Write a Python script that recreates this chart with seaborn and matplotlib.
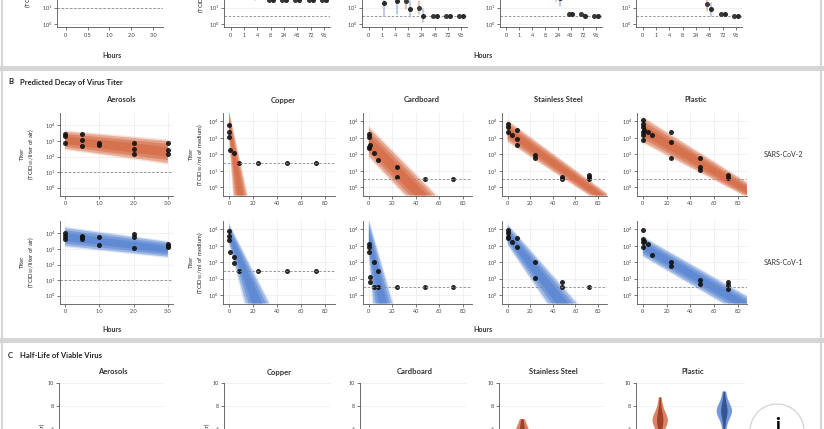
import numpy as np
import pandas as pd
import matplotlib
matplotlib.use("Agg")
import matplotlib.pyplot as plt
from matplotlib.patches import Circle, Rectangle
import seaborn as sns

# =========================
# data (log10 titers)
# =========================
MATERIALS = ["Aerosols", "Copper", "Cardboard", "Stainless Steel", "Plastic"]
VIRUSES = ["SARS-CoV-2", "SARS-CoV-1"]

# panel A: mean titer and half error per sampling time
A_CATS_AIR = ["0", "0.5", "1.0", "2.0", "3.0"]
A_CATS_SURF = ["0", "1", "4", "8", "24", "48", "72", "96"]

A_AIR_COV2 = [3.4, 3.2, 3.0, 2.8, 2.6]
A_AIR_COV1 = [3.9, 3.8, 3.6, 3.6, 3.2]
A_AIR_ERR = [0.3, 0.3, 0.3, 0.4, 0.4]
A_CU_COV2 = [3.5, 2.4, 1.9, 1.5, 1.5, 1.5, 1.5, 1.5]
A_CU_COV1 = [3.6, 2.6, 2.2, 1.5, 1.5, 1.5, 1.5, 1.5]
A_CU_ERR = [0.3, 0.4, 0.4, 0.0, 0.0, 0.0, 0.0, 0.0]
A_CB_COV2 = [3.2, 2.8, 2.5, 1.4, 1.0, 0.5, 0.5, 0.5]
A_CB_COV1 = [2.9, 1.3, 1.4, 0.9, 0.5, 0.5, 0.5, 0.5]
A_CB_ERR = [0.5, 0.8, 0.8, 0.5, 0.4, 0.0, 0.0, 0.0]
A_SS_COV2 = [3.7, 3.5, 3.2, 3.0, 1.9, 0.6, 0.6, 0.5]
A_SS_COV1 = [3.8, 3.6, 3.3, 3.1, 1.6, 0.6, 0.5, 0.5]
A_SS_ERR = [0.3, 0.3, 0.3, 0.4, 0.5, 0.1, 0.1, 0.0]
A_PL_COV2 = [3.8, 3.6, 3.4, 3.3, 2.9, 1.2, 0.6, 0.5]
A_PL_COV1 = [3.7, 3.5, 3.4, 3.0, 2.1, 0.9, 0.6, 0.5]
A_PL_ERR = [0.3, 0.3, 0.3, 0.4, 0.5, 0.4, 0.1, 0.0]

# panel B: measured points (hours, log10 titer)
B_AIR_T = [0, 0, 0, 0.5, 0.5, 0.5, 1, 1, 2, 2, 2, 3, 3, 3]
B_AIR_COV2 = [3.45, 3.3, 2.9, 3.45, 3.05, 2.7, 2.9, 2.75, 2.9, 2.5, 2.15, 2.9, 2.4, 2.15]
B_AIR_COV1 = [4.05, 3.85, 3.65, 3.85, 3.75, 3.65, 3.75, 3.25, 3.95, 3.75, 3.05, 3.3, 3.2, 3.15]

B_CU_T2 = [0, 0, 0, 1, 4, 8, 24, 48, 72]
B_CU_COV2 = [3.75, 3.35, 3.05, 2.25, 2.05, 1.5, 1.5, 1.5, 1.5]
B_CU_T1 = [0, 0, 0, 1, 4, 4, 8, 24, 48, 72]
B_CU_COV1 = [3.9, 3.6, 3.35, 2.6, 2.3, 1.95, 1.5, 1.5, 1.5, 1.5]

B_CB_T2 = [0, 0, 0, 0, 1, 4, 8, 24, 24, 48, 72]
B_CB_COV2 = [3.25, 3.05, 2.45, 2.35, 2.55, 2.1, 1.65, 1.25, 0.6, 0.5, 0.5]
B_CB_T1 = [0, 0, 0, 1, 1, 4, 4, 8, 8, 24, 48, 72]
B_CB_COV1 = [3.1, 2.9, 2.6, 1.1, 0.8, 2.0, 0.5, 1.5, 0.5, 0.5, 0.5, 0.5]

B_SS_T2 = [0, 0, 0, 4, 8, 8, 8, 24, 24, 48, 48, 72, 72, 72]
B_SS_COV2 = [3.85, 3.65, 3.35, 3.15, 3.45, 2.95, 2.55, 1.95, 1.75, 0.65, 0.5, 0.75, 0.6, 0.5]
B_SS_T1 = [0, 0, 0, 0, 4, 8, 8, 24, 24, 48, 48, 72]
B_SS_COV1 = [3.95, 3.75, 3.55, 3.45, 3.25, 3.45, 2.95, 2.0, 1.05, 0.8, 0.5, 0.5]

B_PL_T2 = [0, 0, 0, 0, 0, 0, 1, 4, 8, 24, 24, 24, 48, 48, 48, 72, 72]
B_PL_COV2 = [4.05, 3.85, 3.65, 3.35, 3.15, 2.85, 3.5, 3.35, 3.15, 3.35, 2.75, 1.75,
             1.75, 1.25, 1.05, 0.75, 0.55]
B_PL_T1 = [0, 0, 0, 0, 1, 4, 8, 24, 24, 48, 48, 72, 72, 72]
B_PL_COV1 = [3.95, 3.4, 3.2, 2.95, 3.3, 3.1, 2.45, 2.0, 1.8, 0.9, 0.7, 0.8, 0.6, 0.4]

# detection limits (dashed lines), per material
LIMITS = [1.0, 1.5, 0.5, 0.5, 0.5]

# predicted decay bands: upper / lower edge, start value at 0 h and end point
COV2_UP_START = [3.6, 4.6, 3.6, 4.0, 4.2]
COV2_UP_END_T = [3, 15, 57, 90, 105]
COV2_UP_END = [3.0, -0.5, -0.5, -0.5, -0.5]
COV2_LO_START = [2.5, 3.1, 1.9, 2.8, 2.75]
COV2_LO_END_T = [3, 4, 32, 73, 86]
COV2_LO_END = [1.6, -0.5, -0.5, -0.5, -0.5]

COV1_UP_START = [4.35, 4.3, 4.5, 4.25, 3.5]
COV1_UP_END_T = [3, 33, 20, 61, 98]
COV1_UP_END = [3.45, -0.5, -0.5, -0.5, -0.5]
COV1_LO_START = [3.2, 3.2, 2.6, 3.1, 2.4]
COV1_LO_END_T = [3, 14, 4, 36, 69]
COV1_LO_END = [2.5, -0.5, -0.5, -0.5, -0.5]

# panel C: half-life draws (hours)
C_AIR_COV2 = [0.7, 0.9, 1.1, 1.3, 1.6, 2.2]
C_AIR_COV1 = [0.8, 1.0, 1.2, 1.4, 1.8]
C_CU_COV2 = [0.5, 0.7, 0.8, 0.9, 1.1]
C_CU_COV1 = [1.0, 1.3, 1.5, 1.7, 2.1]
C_CB_COV2 = [1.5, 2.5, 3.0, 3.3, 3.5, 3.7, 4.0, 4.5, 5.5]
C_CB_COV1 = [0.3, 0.5, 0.6, 0.7, 0.9]
C_SS_COV2 = [3.8, 4.4, 4.8, 5.1, 5.3, 5.5, 5.6, 5.7, 5.9, 6.1, 6.4, 6.9]
C_SS_COV1 = [3.0, 3.5, 3.8, 4.0, 4.1, 4.2, 4.3, 4.5, 4.7, 5.0, 5.4]
C_PL_COV2 = [4.8, 5.4, 5.8, 6.1, 6.3, 6.5, 6.6, 6.7, 6.8, 6.8, 6.9, 7.0, 7.1,
             7.3, 7.5, 7.8, 8.2, 8.8]
C_PL_COV1 = [5.9, 6.4, 6.8, 7.1, 7.3, 7.4, 7.5, 7.6, 7.7, 7.8, 7.9, 8.1, 8.4,
             8.8, 9.3]

# =========================
# style
# =========================
RED = "#d05a30"
RED_DARK = "#8c2d17"
RED_PALE = "#eab29c"
BLUE = "#4577cc"
BLUE_DARK = "#223f7a"
BLUE_PALE = "#a9bfe6"
PAL = {"SARS-CoV-2": RED, "SARS-CoV-1": BLUE}
PAL_DARK = {"SARS-CoV-2": RED_DARK, "SARS-CoV-1": BLUE_DARK}
PAL_PALE = {"SARS-CoV-2": RED_PALE, "SARS-CoV-1": BLUE_PALE}
PAL_DOTS = {"SARS-CoV-2": "#3a3a3a", "SARS-CoV-1": "#2a2a2a"}

sns.set_theme(style="whitegrid", rc={
    "grid.color": "#ebebeb", "grid.linewidth": 0.5,
    "axes.edgecolor": "#555555", "axes.linewidth": 0.6,
    "xtick.bottom": True, "ytick.left": True,
    "xtick.major.size": 2, "ytick.major.size": 2,
    "xtick.major.width": 0.5, "ytick.major.width": 0.5,
    "xtick.major.pad": 2, "ytick.major.pad": 1.5,
    "xtick.color": "#444444", "ytick.color": "#444444",
    "mathtext.default": "regular",
})
plt.rcParams["font.family"] = ["Lato", "DejaVu Sans"]

W, H = 824, 429
fig = plt.figure(figsize=(W / 100, H / 100), dpi=100)


def add_ax(x0, y0, x1, y1):
    # pixel box (top-left origin) -> figure axes
    return fig.add_axes([x0 / W, 1 - y1 / H, (x1 - x0) / W, (y1 - y0) / H])


def ftext(x, y, s, **kw):
    fig.text(x / W, 1 - y / H, s, **kw)


def style_ax(ax):
    sns.despine(ax=ax)
    ax.tick_params(labelsize=4)
    ax.set_xlabel("")
    ax.set_ylabel("")


def log_ticks(ax, lo, hi):
    ticks = list(range(lo, hi + 1))
    ax.set_yticks(ticks)
    ax.set_yticklabels([f"$10^{{{t}}}$" for t in ticks])


YLAB_AIR = "Titer\n(TCID$_{50}$/liter of air)"
YLAB_SURF = "Titer\n(TCID$_{50}$/ml of medium)"

# =========================
# panel frames
# =========================
for yy in (66, 338):
    fig.add_artist(Rectangle((0, 1 - (yy + 5) / H), 1, 5 / H, transform=fig.transFigure,
                             color="#d6d6d6", lw=0))
for xx in (2, 821):
    fig.add_artist(plt.Line2D([xx / W, xx / W], [0, 1], transform=fig.transFigure,
                              color="#d6d6d6", lw=1.6))

# =========================
# panel A (only bottom strip visible)
# =========================
A_COLS = [(57, 163), (224, 330), (362, 467), (500, 602), (636, 742)]
A_SERIES = [(A_CATS_AIR, A_AIR_COV2, A_AIR_COV1, A_AIR_ERR),
            (A_CATS_SURF, A_CU_COV2, A_CU_COV1, A_CU_ERR),
            (A_CATS_SURF, A_CB_COV2, A_CB_COV1, A_CB_ERR),
            (A_CATS_SURF, A_SS_COV2, A_SS_COV1, A_SS_ERR),
            (A_CATS_SURF, A_PL_COV2, A_PL_COV1, A_PL_ERR)]
for i, (x0, x1) in enumerate(A_COLS):
    cats, v2, v1, err = A_SERIES[i]
    rows = []
    for c, a, b, e in zip(cats, v2, v1, err):
        for d in (-e, 0, e):
            rows.append((c, "SARS-CoV-2", a + d))
            rows.append((c, "SARS-CoV-1", b + d))
    df = pd.DataFrame(rows, columns=["hours", "virus", "titer"])
    ax = add_ax(x0, -63, x1, 27)
    ax.axhline(LIMITS[i] if i == 0 else 0.5, color="#888888", lw=0.6, ls=(0, (3, 2)))
    # pale error bars, then small dark dots
    sns.pointplot(data=df, x="hours", y="titer", hue="virus", order=cats,
                  hue_order=VIRUSES, palette=PAL_PALE, estimator="median",
                  errorbar=("pi", 100), dodge=0.3, linestyle="none",
                  markersize=0, err_kws={"linewidth": 1.1},
                  legend=False, ax=ax)
    sns.pointplot(data=df, x="hours", y="titer", hue="virus", order=cats,
                  hue_order=VIRUSES, palette=PAL_DOTS, estimator="median",
                  errorbar=None, dodge=0.3, linestyle="none",
                  markersize=1.6, legend=False, ax=ax)
    ax.set_ylim(-0.2, 5.4)
    ax.set_xlim(-0.4 if i == 0 else -0.5, len(cats) - 0.55)
    log_ticks(ax, 0, 1)
    style_ax(ax)
    ax.set_ylabel(YLAB_AIR if i == 0 else YLAB_SURF if i == 1 else "", fontsize=4.3,
                  labelpad=6 if i == 0 else 2)
ftext(112, 55, "Hours", fontsize=5, fontweight="bold", ha="center", va="center", color="#333")
ftext(483, 55, "Hours", fontsize=5, fontweight="bold", ha="center", va="center", color="#333")

# =========================
# panel B: predicted decay
# =========================
ftext(8, 82, "B", fontsize=5.5, fontweight="bold", va="center", color="#222")
ftext(20, 82, "Predicted Decay of Virus Titer", fontsize=5.5, fontweight="bold",
      va="center", color="#222")

B_COLS = [(60, 173), (223, 335), (363, 472), (502, 607), (637, 747)]
ROWS = [(113, 195.5), (221, 303.5)]
B_POINTS = {
    "SARS-CoV-2": [(B_AIR_T, B_AIR_COV2), (B_CU_T2, B_CU_COV2), (B_CB_T2, B_CB_COV2),
                   (B_SS_T2, B_SS_COV2), (B_PL_T2, B_PL_COV2)],
    "SARS-CoV-1": [(B_AIR_T, B_AIR_COV1), (B_CU_T1, B_CU_COV1), (B_CB_T1, B_CB_COV1),
                   (B_SS_T1, B_SS_COV1), (B_PL_T1, B_PL_COV1)],
}
B_BANDS = {
    "SARS-CoV-2": (COV2_UP_START, COV2_UP_END_T, COV2_UP_END,
                   COV2_LO_START, COV2_LO_END_T, COV2_LO_END),
    "SARS-CoV-1": (COV1_UP_START, COV1_UP_END_T, COV1_UP_END,
                   COV1_LO_START, COV1_LO_END_T, COV1_LO_END),
}

for r, virus in enumerate(VIRUSES):
    y0, y1 = ROWS[r]
    us, ut, ue, ls_, lt, le = B_BANDS[virus]
    for i, (x0, x1) in enumerate(B_COLS):
        ax = add_ax(x0, y0, x1, y1)
        # band, drawn as nested layers to fake the gradient
        mid_s = (us[i] + ls_[i]) / 2
        mid_t = (ut[i] + lt[i]) / 2
        mid_e = (ue[i] + le[i]) / 2
        for f, a in ((1.15, 0.18), (1.0, 0.4), (0.75, 0.45), (0.45, 0.45)):
            xs = [0, mid_t + f * (ut[i] - mid_t), mid_t + f * (lt[i] - mid_t), 0]
            ys = [mid_s + f * (us[i] - mid_s), mid_e + f * (ue[i] - mid_e),
                  mid_e + f * (le[i] - mid_e), mid_s + f * (ls_[i] - mid_s)]
            ax.fill(xs, ys, color=PAL[virus], alpha=a, lw=0)
        ax.axhline(LIMITS[i], color="#888888", lw=0.6, ls=(0, (3, 2)))
        t, v = B_POINTS[virus][i]
        sns.scatterplot(x=t, y=v, color="#111111", s=13, linewidth=0, alpha=0.9, ax=ax)
        if i == 0:
            ax.set_xlim(-0.15, 3.15)
            ax.set_xticks([0, 1, 2, 3])
            ax.set_xticklabels(["0", "1.0", "2.0", "3.0"])
            ax.set_ylim(-0.5, 4.8)
        else:
            ax.set_xlim(-5, 88)
            ax.set_xticks([0, 20, 40, 60, 80])
            ax.set_ylim(-0.5, 4.5)
        log_ticks(ax, 0, 4)
        style_ax(ax)
        if i == 0:
            ax.set_ylabel(YLAB_AIR, fontsize=4.3, labelpad=6)
        elif i == 1:
            ax.set_ylabel(YLAB_SURF, fontsize=4.3, labelpad=2)
        if r == 0:
            ftext((x0 + x1) / 2 + 4, 100, MATERIALS[i], fontsize=5.5, fontweight="bold",
                  ha="center", va="center", color="#333")
    ftext(783, (y0 + y1) / 2, virus, fontsize=5, ha="center", va="center", color="#333")

ftext(112, 330, "Hours", fontsize=5, fontweight="bold", ha="center", va="center", color="#333")
ftext(483, 330, "Hours", fontsize=5, fontweight="bold", ha="center", va="center", color="#333")

# =========================
# panel C: half-life violins (top strip visible)
# =========================
ftext(8, 355, "C", fontsize=5.5, fontweight="bold", va="center", color="#222")
ftext(20, 355, "Half-Life of Viable Virus", fontsize=5.5, fontweight="bold",
      va="center", color="#222")

C_COLS = [(59, 163), (224, 330), (360, 466), (499, 604), (636, 745)]
C_SERIES = [(C_AIR_COV2, C_AIR_COV1), (C_CU_COV2, C_CU_COV1), (C_CB_COV2, C_CB_COV1),
            (C_SS_COV2, C_SS_COV1), (C_PL_COV2, C_PL_COV1)]
for i, (x0, x1) in enumerate(C_COLS):
    v2, v1 = C_SERIES[i]
    df = pd.DataFrame({"virus": ["SARS-CoV-2"] * len(v2) + ["SARS-CoV-1"] * len(v1),
                       "hl": v2 + v1})
    ax = add_ax(x0, 383, x1, 498)
    sns.violinplot(data=df, x="virus", y="hl", hue="virus", order=VIRUSES,
                   hue_order=VIRUSES, palette=PAL, cut=0, inner=None, width=0.24,
                   linewidth=0, saturation=1, legend=False, ax=ax)
    sns.violinplot(data=df, x="virus", y="hl", hue="virus", order=VIRUSES,
                   hue_order=VIRUSES, palette=PAL_DARK, cut=0, inner=None, width=0.1,
                   linewidth=0, saturation=1, legend=False, ax=ax)
    for coll in ax.collections:
        coll.set_alpha(0.75)
    ax.set_xlim(-0.37, 1.33)
    ax.set_ylim(0, 10)
    ax.set_yticks([6, 8, 10])
    style_ax(ax)
    ax.set_xticklabels([])
    ax.tick_params(axis="x", length=0)
    if i < 2:
        ax.set_ylabel("Half-Life (hr)", fontsize=4.3, labelpad=2)
    ftext((x0 + x1) / 2 + 2, 372, MATERIALS[i], fontsize=5.5, fontweight="bold",
          ha="center", va="center", color="#333")

# info button overlay from the screenshot
fig.add_artist(Circle((7.77, -0.02), 0.27, transform=fig.dpi_scale_trans,
                      facecolor="white", edgecolor="#cfcfcf", lw=0.8))
ftext(778, 417, "i", fontsize=14, fontweight="bold", ha="center", va="top", color="black")

fig.savefig("out.png", dpi=100)
